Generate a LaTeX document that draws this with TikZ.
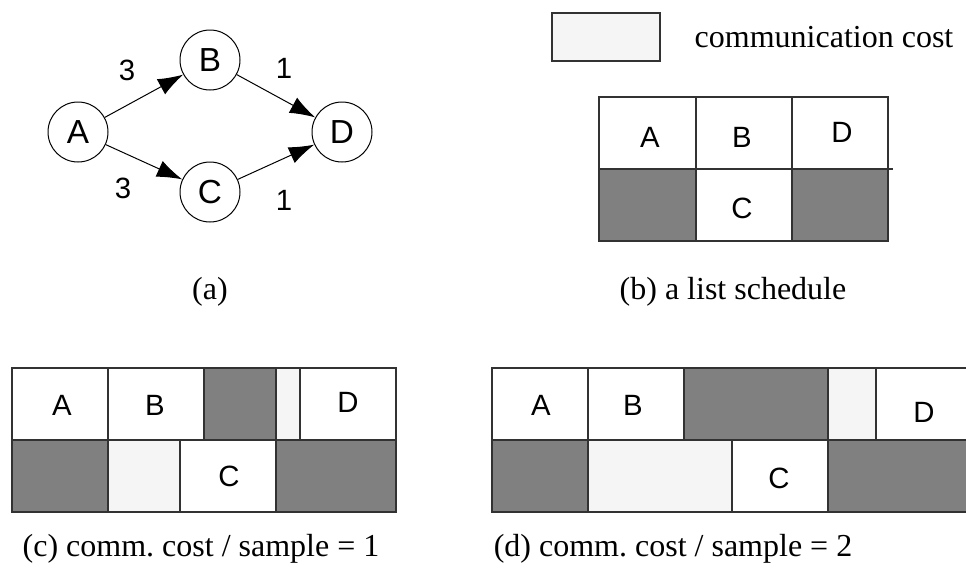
\documentclass[tikz,border=0pt]{standalone}
\usepackage{fontspec}
\setmainfont{Liberation Serif}
\setsansfont{Liberation Sans}
\usetikzlibrary{arrows.meta}
\definecolor{idlegray}{RGB}{128,128,128}
\definecolor{commgray}{RGB}{245,245,245}
\definecolor{linegray}{RGB}{50,50,50}

\begin{document}
\begin{tikzpicture}[x=0.75pt, y=-0.75pt,
  task/.style={circle, draw, line width=0.75pt, minimum size=45pt, inner sep=0pt, font=\sffamily\fontsize{25}{28}\selectfont},
  wt/.style={font=\sffamily\fontsize{22}{25}\selectfont},
  lbl/.style={font=\sffamily\fontsize{22}{25}\selectfont},
  captext/.style={font=\fontsize{24}{28}\selectfont},
  slot/.style={fill=white, draw=linegray, line width=1pt},
  idle/.style={fill=idlegray, draw=linegray, line width=1pt},
  comm/.style={fill=commgray, draw=linegray, line width=1pt},
  >={Latex[length=19pt, width=13pt]}]
    \useasboundingbox (0,0) rectangle (966,576);

    % (a) task graph
    \node[task] (A) at (78,132) {A};
    \node[task] (B) at (210,60) {B};
    \node[task] (C) at (210,192) {C};
    \node[task] (D) at (342,132) {D};

    \draw[->, line width=0.75pt] (A) -- (B);
    \draw[->, line width=0.75pt] (A) -- (C);
    \draw[->, line width=0.75pt] (B) -- (D);
    \draw[->, line width=0.75pt] (C) -- (D);

    % edge weights
    \node[wt] (wAB) at (127,70) {3};
    \node[wt] (wAC) at (123,188) {3};
    \node[wt] (wBD) at (284,68) {1};
    \node[wt] (wCD) at (284,200) {1};

    \node[captext] (capA) at (210,292) {(a)};

    % legend
    \draw[comm] (552,13) rectangle (660,61);
    \node[captext, anchor=west] (legend) at (690,37) {communication cost};

    % (b) list schedule
    \draw[slot] (599,97) rectangle (696,169);
    \draw[slot] (696,97) rectangle (792,169);
    \draw[slot] (792,97) rectangle (888,169);
    \draw[idle] (599,169) rectangle (696,241);
    \draw[slot] (696,169) rectangle (792,241);
    \draw[idle] (792,169) rectangle (888,241);
    \draw[linegray, line width=1pt] (888,169) -- (893,169);
    \node[lbl] (bA) at (650,137) {A};
    \node[lbl] (bB) at (742,137) {B};
    \node[lbl] (bD) at (842,132) {D};
    \node[lbl] (bC) at (742,208) {C};

    \node[captext] (capB) at (733,292) {(b) a list schedule};

    % (c) comm. cost 1
    \draw[slot] (12,368) rectangle (108,440);
    \draw[slot] (108,368) rectangle (204,440);
    \draw[idle] (204,368) rectangle (276,440);
    \draw[comm] (276,368) rectangle (300,440);
    \draw[slot] (300,368) rectangle (396,440);
    \draw[idle] (12,440) rectangle (108,512);
    \draw[comm] (108,440) rectangle (180,512);
    \draw[slot] (180,440) rectangle (276,512);
    \draw[idle] (276,440) rectangle (396,512);
    \node[lbl] (cA) at (62,405) {A};
    \node[lbl] (cB) at (155,405) {B};
    \node[lbl] (cD) at (348,402) {D};
    \node[lbl] (cC) at (229,476) {C};

    \node[captext] (capC) at (201,549) {(c) comm.\ cost / sample = 1};

    % (d) comm. cost 2
    \draw[slot] (492,368) rectangle (588,440);
    \draw[slot] (588,368) rectangle (684,440);
    \draw[idle] (684,368) rectangle (828,440);
    \draw[comm] (828,368) rectangle (876,440);
    \draw[slot] (876,368) rectangle (972,440);
    \draw[idle] (492,440) rectangle (588,512);
    \draw[comm] (588,440) rectangle (732,512);
    \draw[slot] (732,440) rectangle (828,512);
    \draw[idle] (828,440) rectangle (972,512);
    \node[lbl] (dA) at (541,405) {A};
    \node[lbl] (dB) at (633,405) {B};
    \node[lbl] (dD) at (924,412) {D};
    \node[lbl] (dC) at (779,478) {C};

    \node[captext] (capD) at (673,549) {(d) comm.\ cost / sample = 2};
\end{tikzpicture}
\end{document}
